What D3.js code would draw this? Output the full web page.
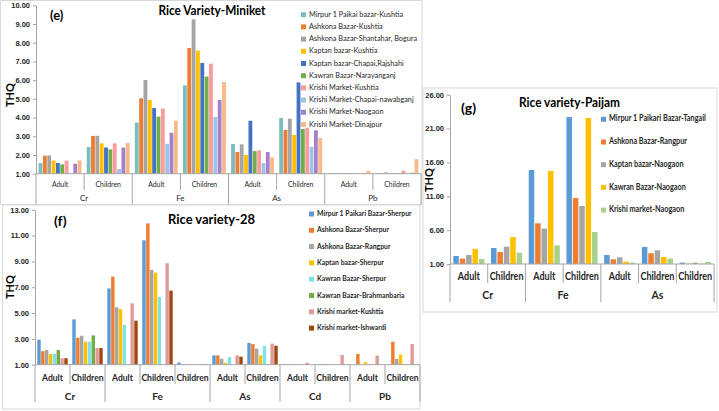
<!DOCTYPE html>
<html>
<head>
<meta charset="utf-8">
<script src="https://cdn.jsdelivr.net/npm/d3@7"></script>
<style>
  body { margin: 0; background: #fff; }
  svg { font-family: Lato, "Open Sans", sans-serif; }
</style>
</head>
<body>
<svg id="chart" width="719" height="411"></svg>
<script>
// ---------------- panel (e) : Miniket ----------------
const eElements = ["Cr", "Cr", "Fe", "Fe", "As", "As", "Pb", "Pb"]
const eStages = ["Adult", "Children", "Adult", "Children", "Adult", "Children", "Adult", "Children"]
const eTicks = [1, 2, 3, 4, 5, 6, 7, 8, 9, 10]
const eSeries = [
  "Mirpur 1 Paikai bazar-Kushtia",
  "Ashkona Bazar-Kushtia",
  "Ashkona Bazar-Shantahar, Bogura",
  "Kaptan bazar-Kushtia",
  "Kaptan bazar-Chapai,Rajshahi",
  "Kawran Bazar-Narayanganj",
  "Krishi Market-Kushtia",
  "Krishi Market-Chapai-nawabganj",
  "Krishi Market-Naogaon",
  "Krishi Market-Dinajpur",
]
const eValues = [
  [1.57, 2.43, 3.73, 5.72, 2.59, 3.98, 1.02, 1.02],
  [1.96, 3.02, 5.03, 7.72, 2.16, 3.34, 1.02, 1.02],
  [1.98, 3.02, 6.01, 9.25, 2.57, 3.94, 1.02, 1.07],
  [1.70, 2.62, 4.94, 7.58, 2.00, 3.07, 1.02, 1.02],
  [1.57, 2.40, 4.51, 6.92, 3.83, 5.88, 1.02, 1.02],
  [1.50, 2.30, 4.05, 6.19, 2.21, 3.39, 1.02, 1.02],
  [1.70, 2.62, 4.48, 6.88, 2.25, 3.46, 1.02, 1.16],
  [1.00, 1.25, 2.60, 4.03, 1.57, 2.44, 1.00, 1.00],
  [1.53, 2.40, 3.19, 4.94, 2.16, 3.32, 1.02, 1.05],
  [1.71, 2.65, 3.83, 5.90, 1.87, 2.91, 1.16, 1.78],
]

// ---------------- panel (f) : variety 28 ----------------
const fElements = ["Cr", "Cr", "Fe", "Fe", "Fe", "As", "As", "Cd", "Cd", "Pb", "Pb"]
const fStages = ["Adult", "Children", "Adult", "Children", "Children", "Adult", "Children", "Adult", "Children", "Adult", "Children"]
const fTicks = [1, 3, 5, 7, 9, 11, 13]
const fSeries = [
  "Mirpur 1 Paikari Bazar-Sherpur",
  "Ashkona Bazar-Sherpur",
  "Ashkona Bazar-Rangpur",
  "Kaptan bazar-Sherpur",
  "Kawran Bazar-Sherpur",
  "Kawran Bazar-Brahmanbaria",
  "Krishi market-Kushtia",
  "Krishi market-Ishwardi",
]
const fValues = [
  [2.94, 4.51, 6.91, 10.63, 1.17, 1.72, 2.68, 1.02, 1.02, 1.00, 1.00],
  [2.05, 3.09, 7.81, 11.94, 1.02, 1.72, 2.60, 1.02, 1.02, 1.83, 2.78],
  [2.14, 3.24, 5.45, 8.34, 1.02, 1.46, 2.24, 1.02, 1.02, 1.00, 1.45],
  [1.83, 2.78, 5.30, 8.13, 1.02, 1.15, 1.72, 1.02, 1.02, 1.20, 1.78],
  [1.83, 2.78, 4.08, 6.24, 1.02, 1.59, 2.45, 1.02, 1.02, 1.00, 1.00],
  [2.14, 3.27, 1.00, 1.00, 1.00, 1.00, 1.00, 1.00, 1.00, 1.00, 1.00],
  [1.50, 2.29, 5.75, 8.85, 1.02, 1.72, 2.63, 1.15, 1.75, 1.70, 2.60],
  [1.50, 2.29, 4.41, 6.74, 1.02, 1.62, 2.47, 1.00, 1.00, 1.00, 1.00],
]

// ---------------- panel (g) : Paijam ----------------
const gElements = ["Cr", "Cr", "Fe", "Fe", "As", "As", "As"]
const gStages = ["Adult", "Children", "Adult", "Children", "Adult", "Children", "Children"]
const gTicks = [1, 6, 11, 16, 21, 26]
const gSeries = [
  "Mirpur 1 Paikari Bazar-Tangail",
  "Ashkona Bazar-Rangpur",
  "Kaptan bazar-Naogaon",
  "Kawran Bazar-Naogaon",
  "Krishi market-Naogaon",
]
const gValues = [
  [2.18, 3.36, 14.88, 22.70, 2.33, 3.51, 1.20],
  [1.79, 2.77, 7.01, 10.75, 1.69, 2.58, 1.05],
  [2.33, 3.56, 6.22, 9.57, 1.99, 3.02, 1.20],
  [3.22, 4.99, 14.74, 22.56, 1.34, 2.03, 1.05],
  [1.74, 2.67, 3.76, 5.73, 1.20, 1.79, 1.30],
]

const svg = d3.select("#chart")
const ink = "#262626"
const axisGrey = "#a6a6a6"

function drawPanel(p) {
  const g = svg.append("g")
  g.append("rect")
    .attr("x", p.box[0]).attr("y", p.box[1])
    .attr("width", p.box[2] - p.box[0]).attr("height", p.box[3] - p.box[1])
    .attr("fill", "#fff").attr("stroke", "#d9d9d9").attr("stroke-width", 1)

  const y = d3.scaleLinear()
    .domain([p.ticks[0], p.ticks[p.ticks.length - 1]])
    .range([p.bottom, p.top])
  const x0 = d3.scaleBand()
    .domain(d3.range(p.stages.length))
    .range([p.left, p.right])
  const x1 = d3.scaleBand()
    .domain(d3.range(p.series.length))
    .range([p.pad, x0.bandwidth() - p.pad])
    .paddingInner(p.inner)

  p.series.forEach((s, i) => {
    g.selectAll(null)
      .data(p.values[i])
      .enter()
      .append("rect")
      .attr("x", (d, j) => x0(j) + x1(i))
      .attr("y", (d) => y(d))
      .attr("width", x1.bandwidth())
      .attr("height", (d) => y(p.ticks[0]) - y(d))
      .attr("fill", p.colors[i])
  })

  // y axis
  const yAxis = d3.axisLeft(y)
    .tickValues(p.ticks)
    .tickFormat(d3.format(".2f"))
    .tickSize(3)
    .tickSizeOuter(0)
    .tickPadding(3)
  const yg = g.append("g")
    .attr("transform", `translate(${p.left},0)`)
    .call(yAxis)
  yg.select(".domain").attr("stroke", axisGrey)
  yg.selectAll(".tick line").attr("stroke", axisGrey)
  yg.selectAll(".tick text")
    .attr("fill", ink)
    .style("font-size", p.tickFont + "px")
    .style("font-weight", "bold")
    .style("font-family", "inherit")

  // category axis (two levels)
  g.append("line")
    .attr("x1", p.left).attr("x2", p.right)
    .attr("y1", p.bottom).attr("y2", p.bottom)
    .attr("stroke", axisGrey)
  const n = p.stages.length
  for (let k = 0; k <= n; k++) {
    const xPos = k < n ? x0(k) : p.right
    const long = k === 0 || k === n || p.elements[k] !== p.elements[k - 1]
    g.append("line")
      .attr("x1", xPos).attr("x2", xPos)
      .attr("y1", p.bottom)
      .attr("y2", long ? p.catSep : p.subSep)
      .attr("stroke", axisGrey)
  }
  g.selectAll(null)
    .data(p.stages)
    .enter()
    .append("text")
    .attr("class", "fit")
    .attr("x", (d, j) => x0(j) + x0.bandwidth() / 2)
    .attr("y", p.subY)
    .attr("text-anchor", "middle")
    .attr("dominant-baseline", "middle")
    .attr("fill", ink)
    .style("font-size", p.labelFont + "px")
    .style("font-weight", p.labelWeight)
    .text((d) => d)

  const runs = []
  p.elements.forEach((el, j) => {
    if (j === 0 || el !== p.elements[j - 1]) runs.push({ el, a: j, b: j })
    else runs[runs.length - 1].b = j
  })
  g.selectAll(null)
    .data(runs)
    .enter()
    .append("text")
    .attr("x", (d) => (x0(d.a) + x0(d.b) + x0.bandwidth()) / 2)
    .attr("y", p.catY)
    .attr("text-anchor", "middle")
    .attr("dominant-baseline", "middle")
    .attr("fill", ink)
    .style("font-size", p.labelFont + "px")
    .style("font-weight", p.labelWeight)
    .text((d) => d.el)

  // titles
  g.append("text")
    .attr("x", p.titleX).attr("y", p.titleY)
    .attr("text-anchor", "middle")
    .attr("textLength", p.titleW)
    .attr("lengthAdjust", "spacingAndGlyphs")
    .style("font-size", p.titleFont + "px")
    .style("font-weight", "bold")
    .attr("fill", "#000")
    .text(p.title)
  g.append("text")
    .attr("x", p.tagX).attr("y", p.tagY)
    .style("font-size", p.titleFont + "px")
    .style("font-weight", "bold")
    .attr("fill", "#000")
    .text(p.tag)
  g.append("text")
    .attr("transform", `translate(${p.thqX},${p.thqY}) rotate(-90)`)
    .attr("text-anchor", "middle")
    .attr("dominant-baseline", "middle")
    .style("font-size", "11px")
    .style("font-weight", "bold")
    .attr("fill", "#000")
    .text("THQ")

  // legend
  const leg = g.selectAll(null)
    .data(p.series)
    .enter()
    .append("g")
    .attr("transform", (d, i) => `translate(${p.legX},${p.legY + i * p.legStep})`)
  leg.append("rect")
    .attr("x", 0).attr("y", -2.5)
    .attr("width", 5).attr("height", 5)
    .attr("fill", (d, i) => p.colors[i])
  leg.append("text")
    .attr("class", "fit")
    .attr("x", 8)
    .attr("dominant-baseline", "middle")
    .attr("fill", ink)
    .style("font-size", p.legFont + "px")
    .style("font-weight", p.legWeight)
    .text((d) => d)
}

drawPanel({
  box: [0.5, 0.5, 422, 204.5],
  elements: eElements, stages: eStages, ticks: eTicks,
  series: eSeries, values: eValues,
  colors: ["#7BBDBE", "#ED7D31", "#A5A5A5", "#FFC000", "#4472C4", "#70AD47", "#FF9B9B", "#9DC3E6", "#A581CC", "#F8B98A"],
  left: 36, right: 421, top: 5.3, bottom: 173.7,
  pad: 2.6, inner: 0.12,
  subY: 184.5, catY: 199, subSep: 190, catSep: 205,
  tickFont: 7.5, labelFont: 8, labelWeight: "normal",
  title: "Rice Variety-Miniket", titleX: 212, titleY: 15, titleW: 107, titleFont: 13,
  tag: "(e)", tagX: 50, tagY: 20,
  thqX: 11, thqY: 95,
  legX: 301, legY: 14.7, legStep: 12.2, legFont: 8.5, legWeight: "normal",
})

drawPanel({
  box: [2.5, 205, 420, 409],
  elements: fElements, stages: fStages, ticks: fTicks,
  series: fSeries, values: fValues,
  colors: ["#5B9BD5", "#ED7D31", "#A5A5A5", "#FFC000", "#7DE3E8", "#70AD47", "#E09A9A", "#A0460F"],
  left: 35, right: 420, top: 209.7, bottom: 364.7,
  pad: 2.3, inner: 0.12,
  subY: 378, catY: 397, subSep: 384, catSep: 402,
  tickFont: 7.5, labelFont: 10, labelWeight: "bold",
  title: "Rice variety-28", titleX: 211.5, titleY: 224, titleW: 87, titleFont: 14,
  tag: "(f)", tagX: 54, tagY: 226,
  thqX: 11, thqY: 287,
  legX: 309, legY: 214, legStep: 16.3, legFont: 8, legWeight: "bold",
})

drawPanel({
  box: [423, 88, 717, 312],
  elements: gElements, stages: gStages, ticks: gTicks,
  series: gSeries, values: gValues,
  colors: ["#5B9BD5", "#ED7D31", "#A5A5A5", "#FFC000", "#A9D18E"],
  left: 450, right: 714, top: 94.7, bottom: 264,
  pad: 3.3, inner: 0.14,
  subY: 277, catY: 296.5, subSep: 283, catSep: 302,
  tickFont: 7.5, labelFont: 10.5, labelWeight: "bold",
  title: "Rice variety-Paijam", titleX: 569.5, titleY: 107, titleW: 101, titleFont: 14,
  tag: "(g)", tagX: 461, tagY: 113,
  thqX: 430, thqY: 180,
  legX: 601, legY: 119.3, legStep: 22.7, legFont: 8.5, legWeight: "bold",
})

// squeeze text horizontally round its anchor to mimic the narrow Office face
svg.selectAll("text.fit").each(function () {
  const ax = +this.getAttribute("x")
  d3.select(this).attr("transform", `translate(${ax},0) scale(0.86,1) translate(${-ax},0)`)
})
</script>
</body>
</html>
